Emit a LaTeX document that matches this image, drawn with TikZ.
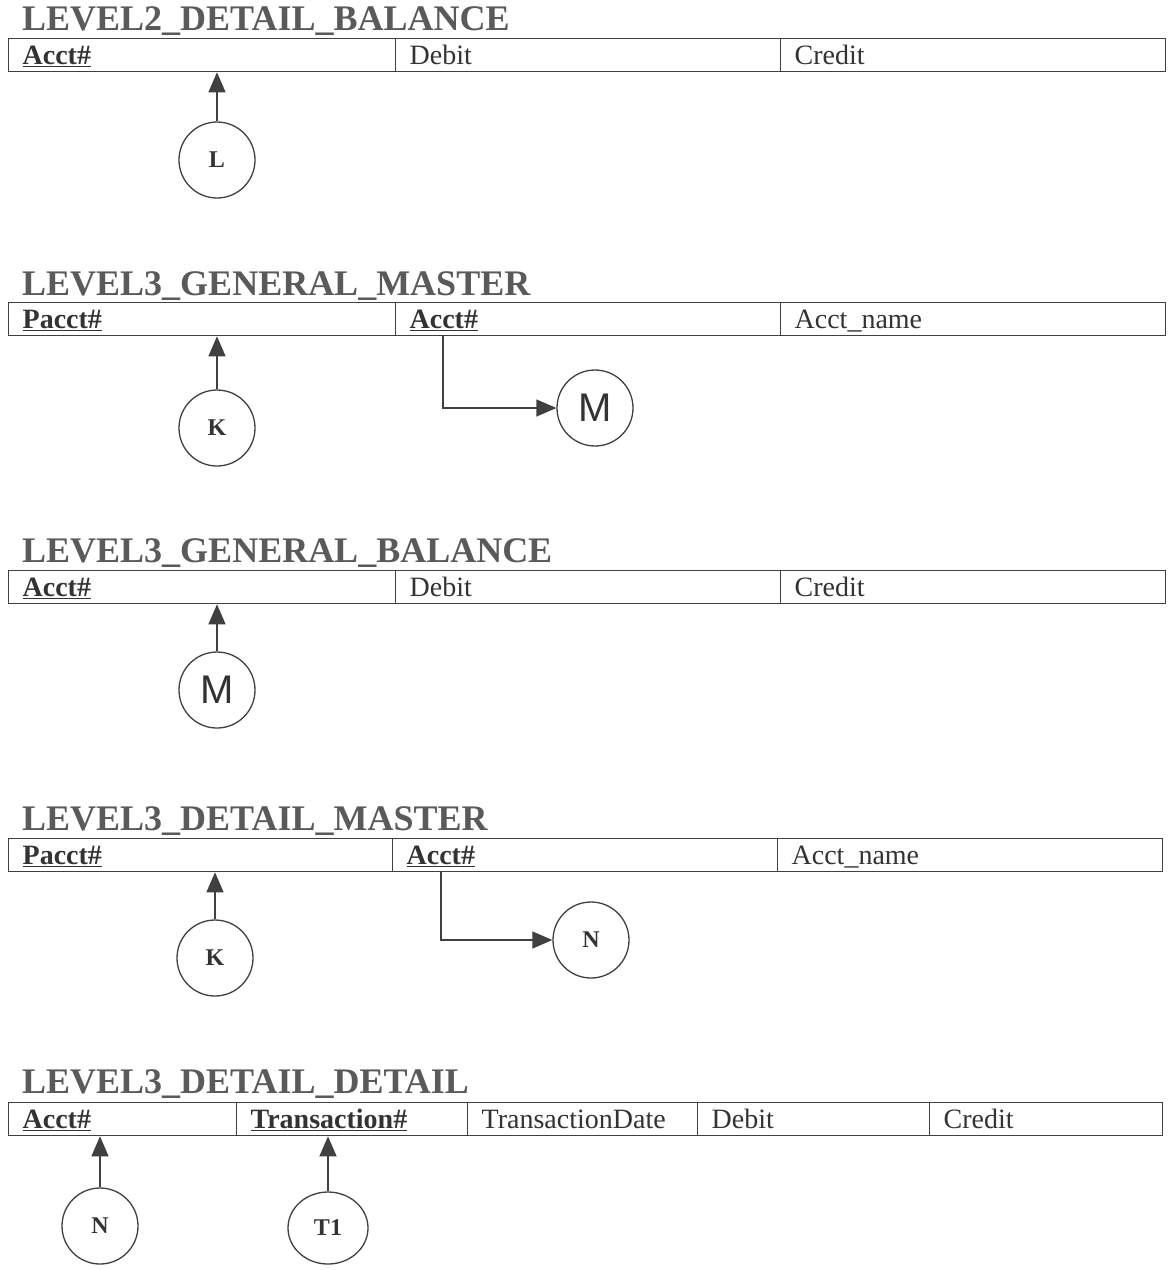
\documentclass[tikz,border=0pt]{standalone}
\usepackage{fontspec}
\setmainfont{Liberation Serif}
\newfontfamily\handfont{Liberation Sans}
\usetikzlibrary{arrows.meta,shapes.geometric}
\definecolor{ink}{HTML}{333333}
\definecolor{ttl}{HTML}{5A5A5A}
\definecolor{lin}{HTML}{404040}
\tikzset{
  ttlnode/.style={anchor=base west, inner sep=0pt, text=ttl, font=\fontsize{36}{40}\selectfont\bfseries},
  cell/.style={draw=lin, line width=1.3pt, anchor=north west, minimum height=33pt, inner xsep=14pt, inner ysep=0pt,
    text height=21pt, text depth=3pt, text width=#1, align=left, text=ink, font=\fontsize{28}{32}\selectfont},
  rel/.style={draw=lin, line width=1.3pt, circle, minimum size=76pt, inner sep=0pt, text=ink, font=\fontsize{24}{28}\selectfont\bfseries},
  relhand/.style={rel, font=\fontsize{40}{44}\handfont},
  arr/.style={draw=lin, line width=1.3pt, -{Triangle[length=20pt,width=17pt]}},
  conn/.style={draw=lin, line width=1.3pt}
}
\newcommand{\kf}[1]{\textbf{\underline{#1}}}
\begin{document}
\begin{tikzpicture}[x=1pt,y=-1pt]
\useasboundingbox[fill=white] (0,0) rectangle (1172,1270);

% ---------- Section 1
\node[ttlnode] (t1) at (22,30) {LEVEL2\_DETAIL\_BALANCE};
\node[cell=359pt] (a1) at (8,38) {\kf{Acct\#}};
\node[cell=357pt] (a2) at (395,38) {Debit};
\node[cell=357pt] (a3) at (780,38) {Credit};
\node[rel] (L) at (217,160) {L};
\draw[arr] (L) -- (L |- a1.south);

% ---------- Section 2
\node[ttlnode] (t2) at (22,295) {LEVEL3\_GENERAL\_MASTER};
\node[cell=359pt] (b1) at (8,302) {\kf{Pacct\#}};
\node[cell=357pt] (b2) at (395,302) {\kf{Acct\#}};
\node[cell=357pt] (b3) at (780,302) {Acct\_name};
\node[rel] (K1) at (217,428) {K};
\node[relhand] (M1) at (595,408) {M};
\draw[arr] (K1) -- (K1 |- b1.south);
\coordinate (s2) at (443,335);
\draw[arr] (s2) |- (M1);

% ---------- Section 3
\node[ttlnode] (t3) at (22,562) {LEVEL3\_GENERAL\_BALANCE};
\node[cell=359pt] (c1) at (8,570) {\kf{Acct\#}};
\node[cell=357pt] (c2) at (395,570) {Debit};
\node[cell=357pt] (c3) at (780,570) {Credit};
\node[relhand] (M2) at (217,690) {M};
\draw[arr] (M2) -- (M2 |- c1.south);

% ---------- Section 4
\node[ttlnode] (t4) at (22,830) {LEVEL3\_DETAIL\_MASTER};
\node[cell=356pt] (d1) at (8,838) {\kf{Pacct\#}};
\node[cell=357pt] (d2) at (392,838) {\kf{Acct\#}};
\node[cell=357pt] (d3) at (777,838) {Acct\_name};
\node[rel] (K2) at (215,958) {K};
\node[rel] (N1) at (591,940) {N};
\draw[arr] (K2) -- (K2 |- d1.south);
\coordinate (s4) at (441,871);
\draw[arr] (s4) |- (N1);

% ---------- Section 5
\node[ttlnode] (t5) at (22,1093) {LEVEL3\_DETAIL\_DETAIL};
\node[cell=200pt] (e1) at (8,1102) {\kf{Acct\#}};
\node[cell=203pt] (e2) at (236,1102) {\kf{Transaction\#}};
\node[cell=202pt] (e3) at (467,1102) {TransactionDate};
\node[cell=204pt] (e4) at (697,1102) {Debit};
\node[cell=205pt] (e5) at (929,1102) {Credit};
\node[rel] (N2) at (100,1226) {N};
\node[rel, ellipse, minimum width=80pt, minimum height=72pt] (T1) at (328,1228) {T1};
\draw[arr] (N2) -- (N2 |- e1.south);
\draw[arr] (T1) -- (T1 |- e2.south);
\end{tikzpicture}
\end{document}
